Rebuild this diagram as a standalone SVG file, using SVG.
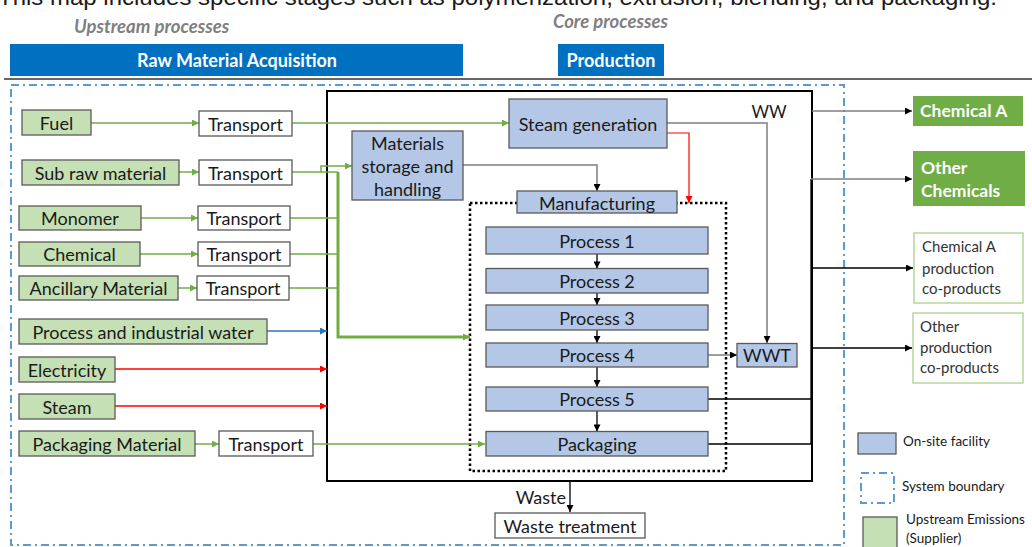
<svg xmlns="http://www.w3.org/2000/svg" width="1032" height="547" viewBox="0 0 1032 547">
<defs>
<style>
text{font-family:Lato,"Open Sans","Liberation Sans",sans-serif;fill:#1a1a1a;}
.t{font-size:18px;text-anchor:middle;dominant-baseline:central;}
.g rect{fill:#C5E0B4;stroke:#595959;stroke-width:1.3;}
.w rect{fill:#fff;stroke:#595959;stroke-width:1.3;}
.b rect{fill:#B4C7E7;stroke:#595959;stroke-width:1.3;}
.hd{font-size:18.5px;font-weight:bold;font-style:italic;fill:#7F7F7F;}
.bar{fill:#0070C0;}
.bt{font-size:18px;font-weight:bold;fill:#fff;text-anchor:middle;dominant-baseline:central;}
.gr{stroke:#70AD47;stroke-width:1.5;fill:none;}
.grk{stroke:#70AD47;stroke-width:3;fill:none;}
.gy{stroke:#7F7F7F;stroke-width:1.5;fill:none;}
.bk{stroke:#000;stroke-width:1.3;fill:none;}
.rd{stroke:#FF0000;stroke-width:1.5;fill:none;}
.bl{stroke:#2E75B6;stroke-width:1.3;fill:none;}
.sb{fill:none;stroke:#5B9BD5;stroke-width:2;stroke-dasharray:8 4 2 4;}
.out{font-size:15px;fill:#333;}
.lg{font-size:13.5px;fill:#1a1a1a;}
</style>
<marker id="ag" viewBox="0 0 10 10" refX="10" refY="5" markerWidth="8" markerHeight="7" markerUnits="userSpaceOnUse" orient="auto"><path d="M0,0L10,5L0,10z" fill="#70AD47"/></marker>
<marker id="ak" viewBox="0 0 10 10" refX="10" refY="5" markerWidth="8" markerHeight="7" markerUnits="userSpaceOnUse" orient="auto"><path d="M0,0L10,5L0,10z" fill="#000"/></marker>
<marker id="ar" viewBox="0 0 10 10" refX="10" refY="5" markerWidth="8" markerHeight="7" markerUnits="userSpaceOnUse" orient="auto"><path d="M0,0L10,5L0,10z" fill="#FF0000"/></marker>
<marker id="ab" viewBox="0 0 10 10" refX="10" refY="5" markerWidth="8" markerHeight="7" markerUnits="userSpaceOnUse" orient="auto"><path d="M0,0L10,5L0,10z" fill="#2E75B6"/></marker>
</defs>
<rect width="1032" height="547" fill="#fff"/>

<text x="-2" y="5" font-size="22" style="font-family:'Liberation Sans',Arial,sans-serif" textLength="999" lengthAdjust="spacingAndGlyphs">This map includes specific stages such as polymerization, extrusion, blending, and packaging.</text>

<g id="headers">
<text class="hd" x="74" y="33">Upstream processes</text>
<text class="hd" x="553" y="28">Core processes</text>
<rect class="bar" x="10" y="44" width="453" height="32"/>
<text class="bt" x="237" y="60">Raw Material Acquisition</text>
<rect class="bar" x="558" y="44" width="106" height="32"/>
<text class="bt" x="611" y="60">Production</text>
<line x1="4" y1="79" x2="1032" y2="79" stroke="#333" stroke-width="1.5"/>
</g>

<rect id="system-boundary" class="sb" x="11" y="85" width="833" height="460"/>
<rect id="production-site" x="327" y="91" width="485" height="390" fill="none" stroke="#000" stroke-width="2"/>
<rect id="manufacturing-boundary" x="470" y="203" width="256" height="268" fill="none" stroke="#000" stroke-width="2.5" stroke-dasharray="2.5 2.5"/>

<g id="connectors">
<line class="gr" x1="91" y1="123" x2="199" y2="123" marker-end="url(#ag)"/>
<line class="gr" x1="179" y1="172" x2="199" y2="172" marker-end="url(#ag)"/>
<line class="gr" x1="141" y1="218" x2="198" y2="218" marker-end="url(#ag)"/>
<line class="gr" x1="140" y1="254" x2="198" y2="254" marker-end="url(#ag)"/>
<line class="gr" x1="178" y1="288" x2="197" y2="288" marker-end="url(#ag)"/>
<line class="gr" x1="195" y1="444" x2="219" y2="444" marker-end="url(#ag)"/>
<line class="gr" x1="292" y1="123" x2="509" y2="123" marker-end="url(#ag)"/>
<path class="gr" d="M292,172H321V166H352" marker-end="url(#ag)"/>
<path class="gr" d="M321,172H338"/>
<path class="grk" d="M338,172V337H470" marker-end="url(#ag)"/>
<path class="gr" d="M290,218H338M290,254H338M289,288H338"/>
<line class="bl" x1="267" y1="331" x2="327" y2="331" marker-end="url(#ab)"/>
<line class="rd" x1="115" y1="369" x2="327" y2="369" marker-end="url(#ar)"/>
<line class="rd" x1="115" y1="406" x2="327" y2="406" marker-end="url(#ar)"/>
<line class="gr" x1="313" y1="444" x2="485" y2="444" marker-end="url(#ag)"/>
<path class="gy" d="M463,165H597V191" marker-end="url(#ak)"/>
<path class="rd" style="stroke-width:1.2" d="M667,133H689V203" marker-end="url(#ar)"/>
<path class="gy" d="M667,123H767V343" marker-end="url(#ak)"/>
<line class="bk" x1="597" y1="254" x2="597" y2="268.5" marker-end="url(#ak)"/>
<line class="bk" x1="597" y1="293" x2="597" y2="305" marker-end="url(#ak)"/>
<line class="bk" x1="597" y1="330" x2="597" y2="343" marker-end="url(#ak)"/>
<line class="bk" x1="597" y1="367" x2="597" y2="387" marker-end="url(#ak)"/>
<line class="bk" x1="597" y1="411" x2="597" y2="431.5" marker-end="url(#ak)"/>
<line class="gy" x1="708" y1="355" x2="737" y2="355" marker-end="url(#ak)"/>
<path class="bk" d="M708,399H811M708,444H811M811,179V444"/>
<line class="gy" x1="812" y1="111" x2="912" y2="111" marker-end="url(#ak)"/>
<line class="gy" x1="811" y1="179" x2="912" y2="179" marker-end="url(#ak)"/>
<line class="bk" x1="811" y1="268" x2="913" y2="268" marker-end="url(#ak)"/>
<line class="bk" x1="811" y1="348" x2="912" y2="348" marker-end="url(#ak)"/>
<line class="bk" x1="570" y1="481" x2="570" y2="512" marker-end="url(#ak)"/>
</g>

<g id="fuel" class="g"><rect x="22" y="110" width="69" height="25"/><text class="t" x="56.5" y="122.5">Fuel</text></g>
<g id="sub-raw-material" class="g"><rect x="22" y="160" width="157" height="25"/><text class="t" x="100.5" y="172.5">Sub raw material</text></g>
<g id="monomer" class="g"><rect x="19" y="206" width="122" height="24"/><text class="t" x="80" y="218">Monomer</text></g>
<g id="chemical" class="g"><rect x="19" y="242" width="121" height="24"/><text class="t" x="79.5" y="254">Chemical</text></g>
<g id="ancillary-material" class="g"><rect x="19" y="276" width="159" height="24"/><text class="t" x="98.5" y="288">Ancillary Material</text></g>
<g id="process-water" class="g"><rect x="19" y="319" width="248" height="25"/><text class="t" x="143" y="331.5">Process and industrial water</text></g>
<g id="electricity" class="g"><rect x="19" y="357" width="96" height="25"/><text class="t" x="67" y="369.5">Electricity</text></g>
<g id="steam" class="g"><rect x="19" y="394" width="96" height="25"/><text class="t" x="67" y="406.5">Steam</text></g>
<g id="packaging-material" class="g"><rect x="19" y="431" width="176" height="25"/><text class="t" x="107" y="443.5">Packaging Material</text></g>

<g id="transport-1" class="w"><rect x="199" y="111" width="93" height="25"/><text class="t" x="245.5" y="123.5">Transport</text></g>
<g id="transport-2" class="w"><rect x="199" y="160" width="93" height="25"/><text class="t" x="245.5" y="172.5">Transport</text></g>
<g id="transport-3" class="w"><rect x="198" y="206" width="92" height="24"/><text class="t" x="244" y="218">Transport</text></g>
<g id="transport-4" class="w"><rect x="198" y="242" width="92" height="24"/><text class="t" x="244" y="254">Transport</text></g>
<g id="transport-5" class="w"><rect x="197" y="276" width="92" height="24"/><text class="t" x="243" y="288">Transport</text></g>
<g id="transport-6" class="w"><rect x="219" y="431" width="94" height="25"/><text class="t" x="266" y="443.5">Transport</text></g>

<g id="materials-storage" class="b"><rect x="352" y="131" width="111" height="69"/>
<text class="t" x="407.5" y="143">Materials</text><text class="t" x="407.5" y="166">storage and</text><text class="t" x="407.5" y="189">handling</text></g>
<g id="steam-generation" class="b"><rect x="509" y="99" width="158" height="49"/><text class="t" x="588" y="123.5">Steam generation</text></g>
<g id="manufacturing" class="b"><rect x="517" y="191" width="160" height="22"/><text class="t" x="597" y="202.5">Manufacturing</text></g>
<g id="process-1" class="b"><rect x="486" y="227" width="222" height="27"/><text class="t" x="597" y="240.5">Process 1</text></g>
<g id="process-2" class="b"><rect x="486" y="268.5" width="222" height="24.5"/><text class="t" x="597" y="281">Process 2</text></g>
<g id="process-3" class="b"><rect x="486" y="305" width="222" height="25"/><text class="t" x="597" y="317.5">Process 3</text></g>
<g id="process-4" class="b"><rect x="486" y="343" width="222" height="24"/><text class="t" x="597" y="355">Process 4</text></g>
<g id="process-5" class="b"><rect x="486" y="387" width="222" height="24"/><text class="t" x="597" y="399">Process 5</text></g>
<g id="packaging" class="b"><rect x="486" y="431.5" width="222" height="24.5"/><text class="t" x="597" y="443.5">Packaging</text></g>
<g id="wwt" class="b"><rect x="737" y="343.5" width="60" height="23.5"/><text class="t" x="767" y="355">WWT</text></g>
<text id="ww-label" class="t" x="769" y="111" style="font-size:17px">WW</text>

<g id="waste-treatment" class="w"><rect x="495" y="513" width="150" height="25"/><text class="t" x="570" y="525.5">Waste treatment</text></g>
<text id="waste-label" class="t" x="566" y="497" style="text-anchor:end">Waste</text>

<g id="chemical-a"><rect x="913" y="96" width="110" height="30" fill="#70AD47"/><text x="920" y="117" style="font-size:17.5px;font-weight:bold;fill:#fff">Chemical A</text></g>
<g id="other-chemicals"><rect x="913" y="151" width="112" height="55" fill="#70AD47"/><text x="921" y="174" style="font-size:17.5px;font-weight:bold;fill:#fff">Other</text><text x="921" y="197" style="font-size:17.5px;font-weight:bold;fill:#fff">Chemicals</text></g>
<g id="chemical-a-coproducts"><rect x="914" y="233" width="109" height="70" fill="#fff" stroke="#A9D18E" stroke-width="1.3"/>
<text class="out" x="922" y="252">Chemical A</text><text class="out" x="922" y="274">production</text><text class="out" x="922" y="294">co-products</text></g>
<g id="other-coproducts"><rect x="913" y="313" width="110" height="70" fill="#fff" stroke="#A9D18E" stroke-width="1.3"/>
<text class="out" x="920" y="332">Other</text><text class="out" x="920" y="353">production</text><text class="out" x="920" y="373">co-products</text></g>

<g id="legend">
<rect x="858" y="433" width="38" height="21" fill="#B4C7E7" stroke="#595959" stroke-width="1.3"/>
<text class="lg" x="903" y="446">On-site facility</text>
<rect class="sb" x="861" y="473" width="33" height="30"/>
<text class="lg" x="902" y="491">System boundary</text>
<rect x="863" y="517" width="34" height="32" fill="#C5E0B4" stroke="#595959" stroke-width="1.3"/>
<text class="lg" x="906" y="524">Upstream Emissions</text>
<text class="lg" x="906" y="543">(Supplier)</text>
</g>
</svg>
